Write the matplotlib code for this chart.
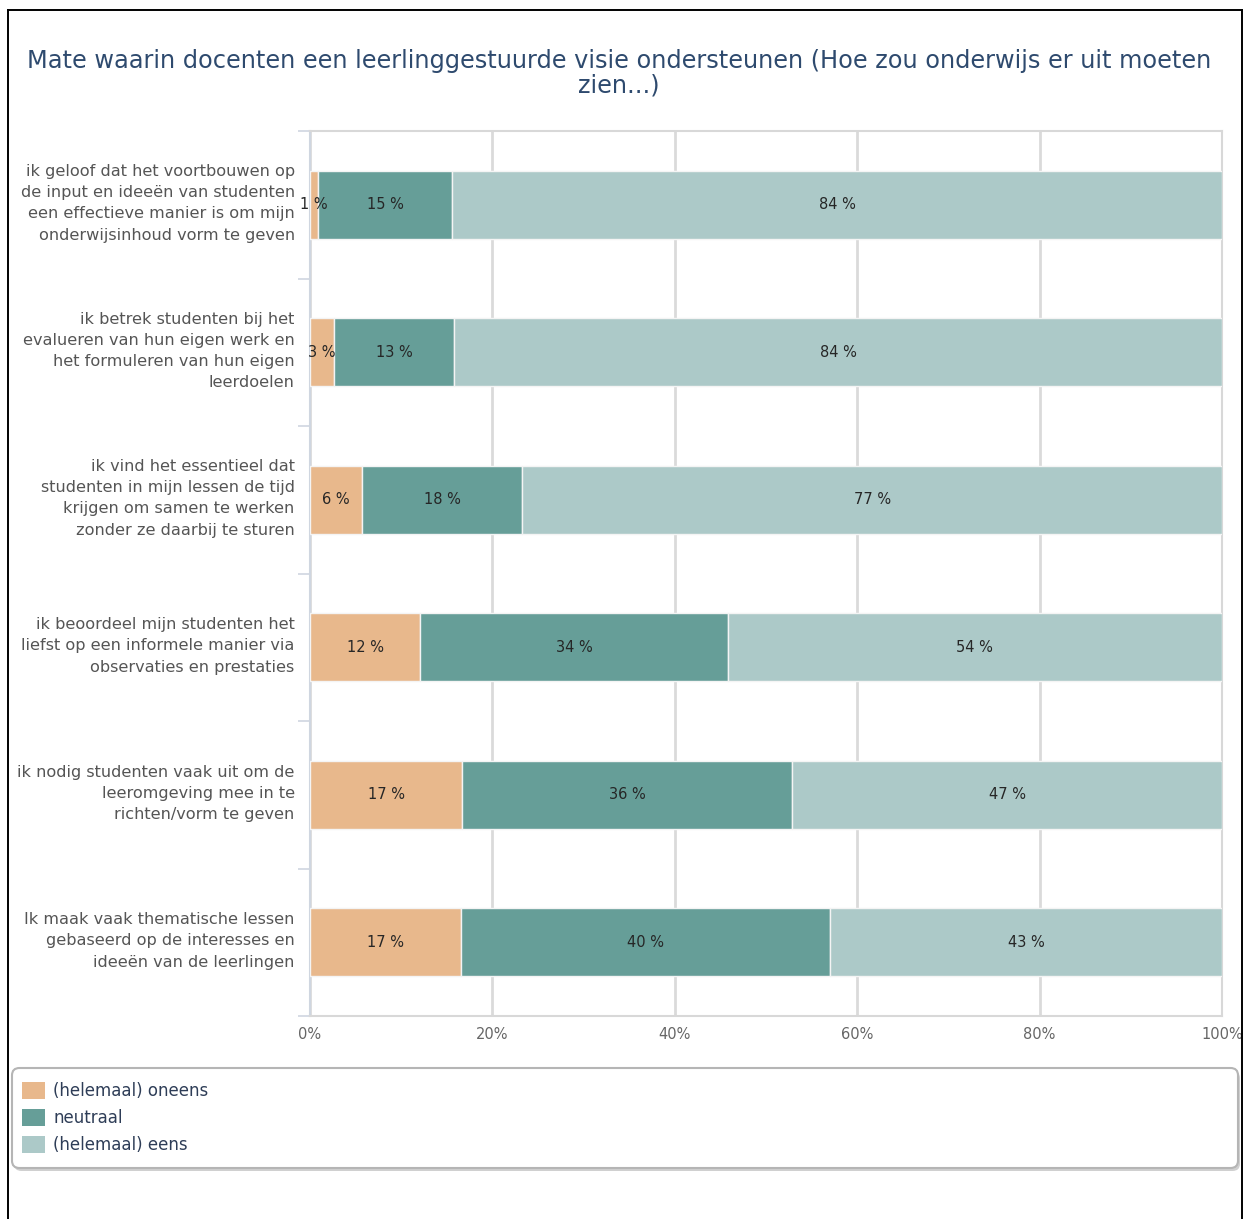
import matplotlib.pyplot as plt
from matplotlib.patches import FancyBboxPatch, Rectangle, Patch
from matplotlib.lines import Line2D
from matplotlib.transforms import ScaledTranslation
import numpy as np

plt.rcParams['font.family'] = ['DejaVu Sans']

categories = [
    'ik geloof dat het voortbouwen op\nde input en ideeën van studenten\neen effectieve manier is om mijn\nonderwijsinhoud vorm te geven',
    'ik betrek studenten bij het\nevalueren van hun eigen werk en\nhet formuleren van hun eigen\nleerdoelen',
    'ik vind het essentieel dat\nstudenten in mijn lessen de tijd\nkrijgen om samen te werken\nzonder ze daarbij te sturen',
    'ik beoordeel mijn studenten het\nliefst op een informele manier via\nobservaties en prestaties',
    'ik nodig studenten vaak uit om de\nleeromgeving mee in te\nrichten/vorm te geven',
    'Ik maak vaak thematische lessen\ngebaseerd op de interesses en\nideeën van de leerlingen',
]
oneens = [0.9, 2.6, 5.7, 12.1, 16.7, 16.6]
neutraal = [14.7, 13.2, 17.6, 33.7, 36.2, 40.4]
eens = [84.4, 84.2, 76.7, 54.2, 47.1, 43.0]
series_names = ['(helemaal) oneens', 'neutraal', '(helemaal) eens']
colors = ['#e8b88c', '#669e98', '#acc9c8']
xticks = [0, 20, 40, 60, 80, 100]

W, H = 1246, 1219
fig = plt.figure(figsize=(W / 100, H / 100), dpi=100)


def fx(px):
    return px / W


def fy(py):
    return 1 - py / H


ax = fig.add_axes([fx(310), fy(1016), fx(1222) - fx(310), fy(131) - fy(1016)])

y = np.arange(len(categories))
left = np.zeros(len(categories))
for vals, col in zip([oneens, neutraal, eens], colors):
    vals = np.array(vals)
    ax.barh(y, vals, left=left, height=0.46, color=col, edgecolor='#f4f4f4',
            linewidth=1, zorder=3)
    for yi, l, v in zip(y, left, vals):
        ax.text(l + v / 2, yi, f'{v:.0f} %', ha='center', va='center',
                fontsize=10.5, color='#262626', zorder=4)
    left = left + vals

ax.set_xlim(0, 100)
ax.set_ylim(len(categories) - 0.5, -0.5)
ax.set_xticks(xticks)
ax.set_xticklabels([f'{t}%' for t in xticks], fontsize=10.5, color='#666666')
ax.set_yticks(y)
ax.set_yticklabels(categories, fontsize=11.6, color='#555555', linespacing=1.52)
ax.set_yticks(np.arange(-0.5, len(categories) + 0.5, 1), minor=True)
ax.tick_params(axis='y', which='major', length=0, pad=11)
ax.tick_params(axis='y', which='minor', length=9, color='#cfd6e0', width=1.2)
ax.tick_params(axis='x', length=0, pad=8)
shift = ScaledTranslation(0, 6 / 100, fig.dpi_scale_trans)
for lab in ax.get_yticklabels():
    lab.set_transform(lab.get_transform() + shift)
ax.grid(axis='x', color='#dadada', linewidth=2, zorder=0)
for s in ['top', 'right', 'bottom']:
    ax.spines[s].set_color('#d8d8d8')
    ax.spines[s].set_linewidth(1.5)
ax.spines['left'].set_color('#cfd6e0')
ax.spines['left'].set_linewidth(1.5)

fig.text(0.497, fy(73), 'Mate waarin docenten een leerlinggestuurde visie ondersteunen (Hoe zou onderwijs er uit moeten\nzien...)',
         ha='center', va='center', fontsize=17.25, color='#2e4a6e', linespacing=1.03)

# legend box
box = FancyBboxPatch((fx(12), fy(1168)), fx(1238) - fx(12), fy(1068) - fy(1168),
                     boxstyle='round,pad=0,rounding_size=0.006', transform=fig.transFigure,
                     facecolor='white', edgecolor='#b5b5b5', linewidth=1.5)
shadow = FancyBboxPatch((fx(14), fy(1171)), fx(1238) - fx(12), fy(1068) - fy(1168),
                        boxstyle='round,pad=0,rounding_size=0.006', transform=fig.transFigure,
                        facecolor='#d0d0d0', edgecolor='none')
fig.patches.extend([shadow, box])
handles = [Patch(facecolor=c, edgecolor='none') for c in colors]
fig.legend(handles, series_names, loc='upper left', bbox_to_anchor=(fx(10), fy(1070)),
           frameon=False, fontsize=12, labelcolor='#2e3d57', handlelength=1.4,
           handleheight=1.2, handletextpad=0.5, labelspacing=0.55, borderpad=0.2)

# outer frame, clipped on the right
fig.patches.append(Rectangle((fx(1242), 0), 1 - fx(1242), 1, transform=fig.transFigure,
                             facecolor='white', edgecolor='none', zorder=10))
for xs, ys in [([fx(8), fx(1242)], [fy(10), fy(10)]),
               ([fx(8), fx(8)], [fy(10), 0]),
               ([fx(1242), fx(1242)], [fy(10), 0])]:
    fig.add_artist(Line2D(xs, ys, color='black', linewidth=1.4, zorder=11,
                          transform=fig.transFigure))

fig.savefig('out.png', dpi=100)
